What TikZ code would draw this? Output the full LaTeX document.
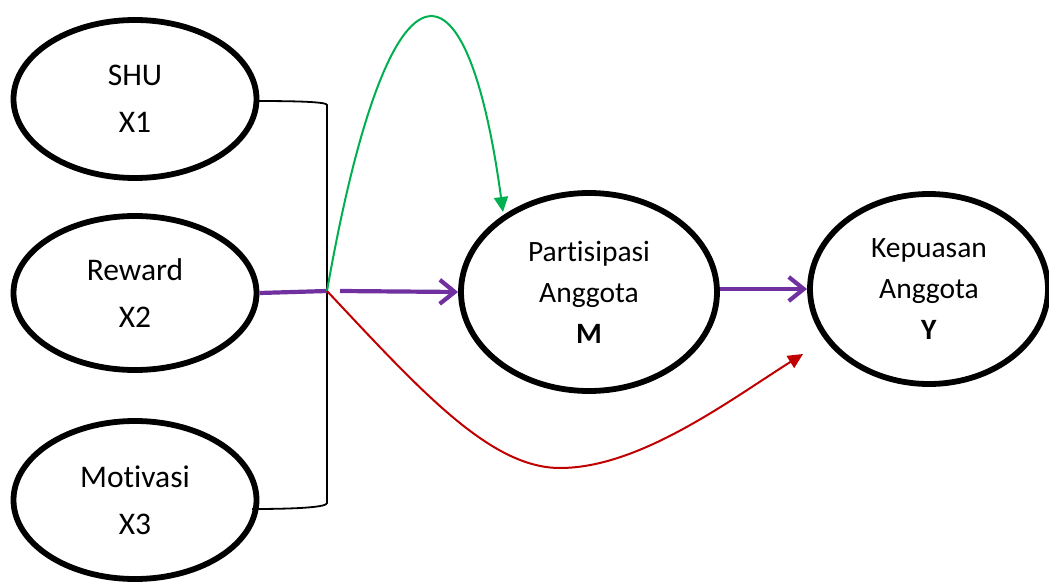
\documentclass[tikz,border=0pt]{standalone}
\usepackage{fontspec}
\setmainfont{Carlito}[Ligatures={NoCommon}]
\usetikzlibrary{shapes.geometric,arrows.meta}
\definecolor{cpurple}{RGB}{112,48,160}
\definecolor{cgreen}{RGB}{0,176,80}
\definecolor{cred}{RGB}{192,0,0}
\tikzset{
  var/.style={draw=black,line width=5.8pt,ellipse,inner sep=0pt,align=center},
  bigtxt/.style={font=\fontsize{31.5}{47}\selectfont},
  medtxt/.style={font=\fontsize{29.5}{41}\selectfont},
  bracket/.style={draw=black,line width=1.8pt},
  purplearrow/.style={draw=cpurple,line width=4.2pt,-{Straight Barb[length=15pt,width=24pt]}},
  purpleline/.style={draw=cpurple,line width=4.2pt},
  greenarrow/.style={draw=cgreen,line width=2pt,-{Triangle[length=15pt,width=14pt,fill=cgreen]}},
  redarrow/.style={draw=cred,line width=2pt,-{Triangle[length=15pt,width=14pt,fill=cred]}}
}
\begin{document}
\begin{tikzpicture}[x=1pt,y=-1pt]
\useasboundingbox (0,0) rectangle (1049,583);
\node[var,bigtxt,minimum width=243pt,minimum height=158pt] (shu) at (135,99) {SHU\\X1};
\node[var,bigtxt,minimum width=243pt,minimum height=154pt] (rew) at (135,293) {Reward\\X2};
\node[var,bigtxt,minimum width=243pt,minimum height=158pt] (mot) at (135,500) {Motivasi\\X3};
\node[var,medtxt,minimum width=256pt,minimum height=198pt] (par) at (589,292) {Partisipasi\\Anggota\\\textbf{M}};
\node[var,medtxt,minimum width=238pt,minimum height=190pt] (kep) at (929,289) {Kepuasan\\Anggota\\\textbf{Y}};
\coordinate (jtop) at (327,105);
\coordinate (jmid) at (327,291);
\coordinate (jbot) at (327,503);
\coordinate (bstart) at (255,101);
\coordinate (bend) at (252,509);
\coordinate (pstart) at (340,291);
\coordinate (pq) at (720,289);
\coordinate (redtip) at (803,354);
\coordinate (greentip) at (503,212);
\draw[bracket] (bstart) .. controls (300,101) and (327,102) .. (jtop) -- (jbot) .. controls (327,507) and (300,509) .. (bend);
\draw[purpleline] (rew.east) -- (jmid);
\draw[purplearrow] (pstart) -- (par.west);
\draw[purplearrow] (pq) -- (pq -| kep.west);
\draw[greenarrow] (jmid) .. controls (388,-56) and (466,-60) .. (greentip);
\draw[redarrow] (jmid) .. controls (420,390) and (490,468) .. (560,468) .. controls (640,468) and (730,400) .. (redtip);
\end{tikzpicture}
\end{document}
